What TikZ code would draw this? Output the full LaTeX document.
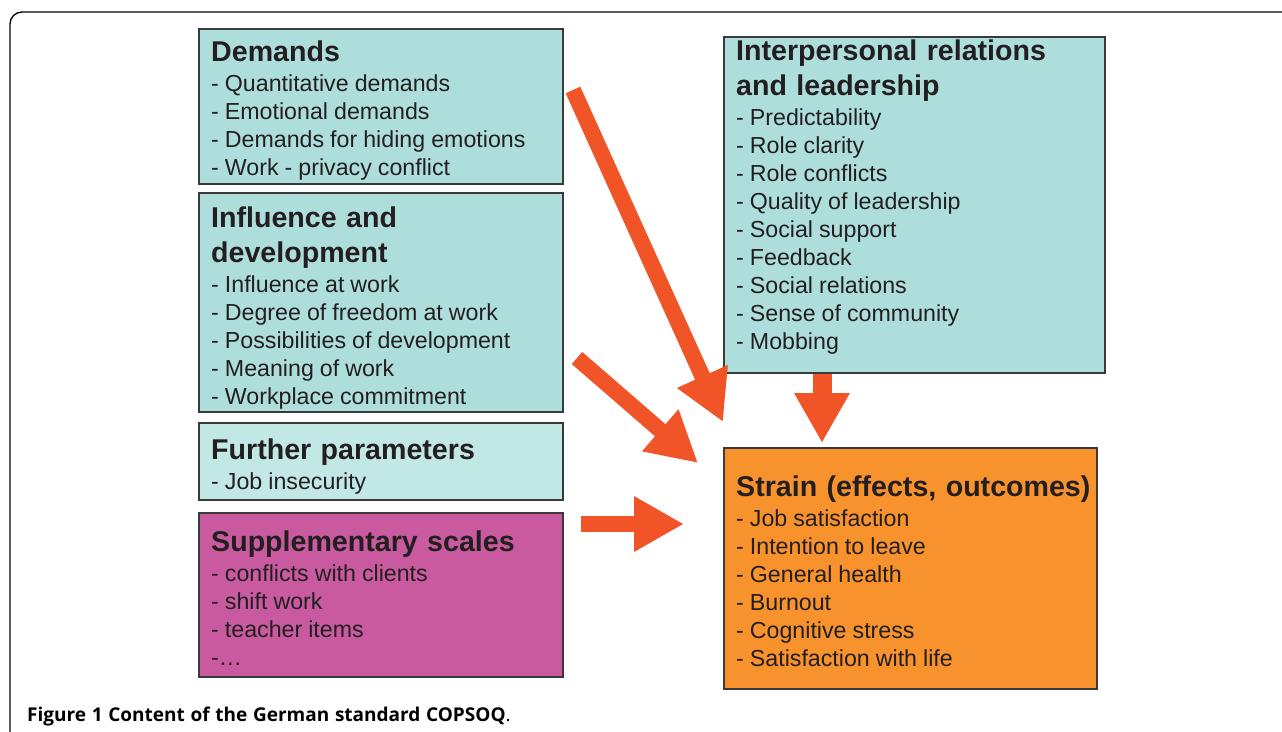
\documentclass[tikz,border=0pt]{standalone}
\usepackage{fontspec}
\setmainfont{Liberation Sans}
\newfontfamily\capfont{Open Sans}
\usetikzlibrary{arrows.meta}
\definecolor{tealbox}{HTML}{ADDEDC}
\definecolor{lighttealbox}{HTML}{C2E8E6}
\definecolor{magentabox}{HTML}{C95AA0}
\definecolor{orangebox}{HTML}{F7922D}
\definecolor{arrowred}{HTML}{F15427}
\definecolor{boxline}{HTML}{3A3A3A}
\definecolor{txt}{HTML}{231F20}
\newcommand{\hdr}{\fontsize{28.6}{35}\selectfont\bfseries\spaceskip=0.33em\relax}
\newcommand{\itm}{\fontsize{23.2}{28}\selectfont\mdseries\spaceskip=0.26em\relax}
\tikzset{
  box/.style={draw=boxline, line width=1.3pt, anchor=north west, inner sep=0pt, outer sep=0pt},
  boxtext/.style={anchor=base west, inner sep=0pt, text width=380pt, text=txt},
  bigarrow/.style={draw=arrowred, line width=16pt, line cap=butt, -{Triangle[length=50pt,width=52pt]}},
}
\begin{document}
\begin{tikzpicture}[x=1pt,y=-1pt]
\useasboundingbox (0,0) rectangle (1282,731);
\clip (0,0) rectangle (1282,731);
\fill[white] (0,0) rectangle (1282,731);
% outer frame
\draw[line width=1.3pt, rounded corners=12pt] (10,12) rectangle (1310,770);

% boxes
\node[box, fill=tealbox, minimum width=364pt, minimum height=155pt] (dem) at (199,29) {};
\node[box, fill=tealbox, minimum width=364pt, minimum height=219pt] (infl) at (199,193) {};
\node[box, fill=lighttealbox, minimum width=364pt, minimum height=77pt] (furth) at (199,423) {};
\node[box, fill=magentabox, minimum width=364pt, minimum height=164pt] (supp) at (199,513) {};
\node[box, fill=tealbox, minimum width=381pt, minimum height=336pt] (inter) at (724,37) {};
\node[box, fill=orangebox, minimum width=373pt, minimum height=241pt] (strain) at (724,448) {};

% texts
\node[boxtext] (demT) at (211,61) {{\hdr Demands\par}\vspace{2pt}{\itm
- Quantitative demands\par
- Emotional demands\par
- Demands for hiding emotions\par
- Work - privacy conflict\par}};
\node[boxtext] (inflT) at (211,227) {{\hdr Influence and\par development\par}\vspace{2pt}{\itm
- Influence at work\par
- Degree of freedom at work\par
- Possibilities of development\par
- Meaning of work\par
- Workplace commitment\par}};
\node[boxtext] (furthT) at (211,459) {{\hdr Further parameters\par}\vspace{2pt}{\itm
- Job insecurity\par}};
\node[boxtext] (suppT) at (211,551) {{\hdr Supplementary scales\par}\vspace{2pt}{\itm
- conflicts with clients\par
- shift work\par
- teacher items\par
-…\par}};
\node[boxtext] (interT) at (736,60) {{\hdr Interpersonal relations\par and leadership\par}\vspace{2pt}{\itm
- Predictability\par
- Role clarity\par
- Role conflicts\par
- Quality of leadership\par
- Social support\par
- Feedback\par
- Social relations\par
- Sense of community\par
- Mobbing\par}};
\node[boxtext] (strainT) at (736,496) {{\hdr Strain (effects, outcomes)\par}\vspace{2pt}{\itm
- Job satisfaction\par
- Intention to leave\par
- General health\par
- Burnout\par
- Cognitive stress\par
- Satisfaction with life\par}};

% arrow end points
\coordinate (a1s) at (573,90);
\coordinate (a1e) at (723,422);
\coordinate (a2s) at (577,358);
\coordinate (a2e) at (698,463);
\coordinate (a3s) at (822,374);
\coordinate (a3e) at (822,443);
\coordinate (a4s) at (581,524);
\coordinate (a4e) at (684,524);
\draw[bigarrow] (a1s) -- (a1e);
\draw[bigarrow] (a2s) -- (a2e);
\draw[bigarrow, line width=19pt] (a3s) -- (a3e);
\draw[bigarrow] (a4s) -- (a4e);

% caption
\node[anchor=base west, inner sep=0pt, text=black] (cap) at (27,721) {\capfont\fontsize{19}{23}\selectfont\bfseries\spaceskip=0.3em\relax Figure 1 Content of the German standard COPSOQ\mdseries.};
\end{tikzpicture}
\end{document}
